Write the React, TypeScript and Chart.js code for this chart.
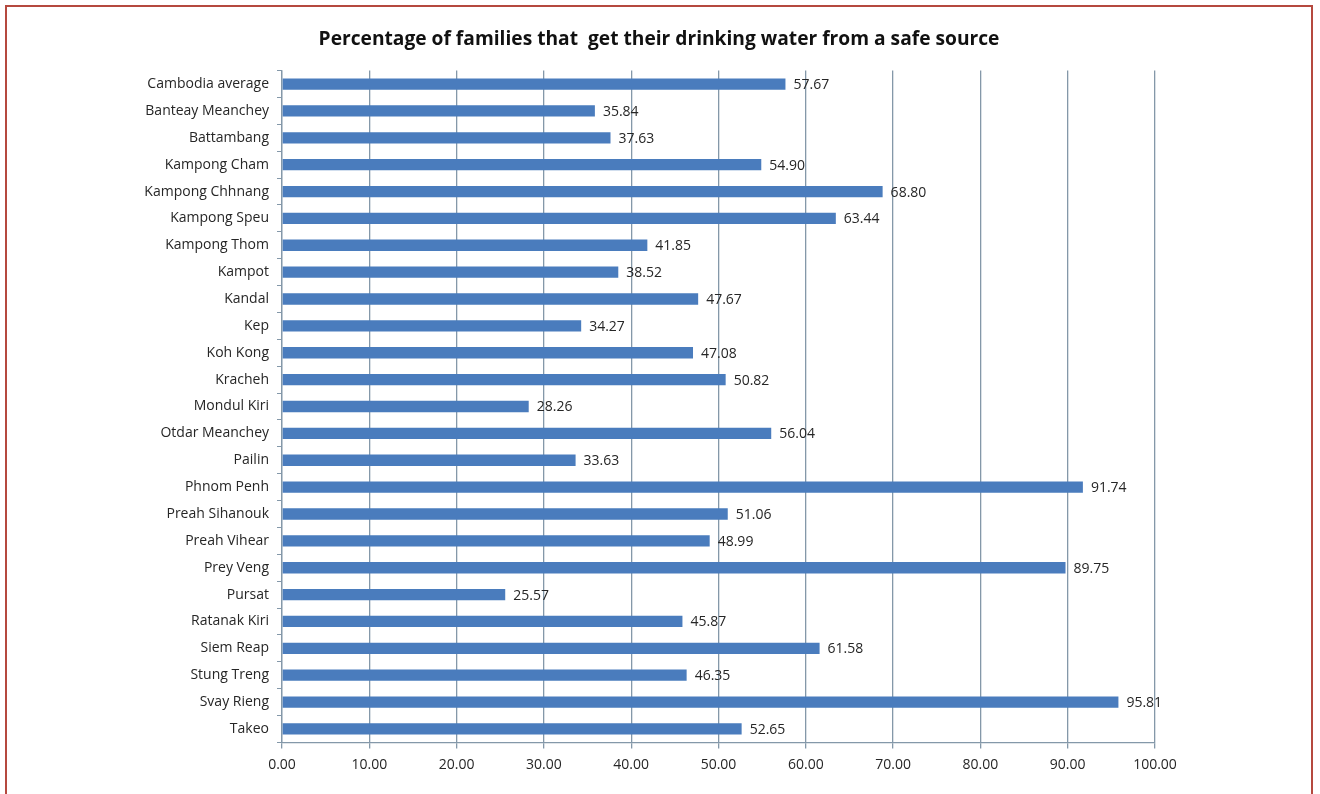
import React, { useEffect, useRef } from "react";
import { Chart, registerables } from "chart.js";

Chart.register(...registerables);

const TITLE = "Percentage of families that  get their drinking water from a safe source";

const provinces = [
  "Cambodia average",
  "Banteay Meanchey",
  "Battambang",
  "Kampong Cham",
  "Kampong Chhnang",
  "Kampong Speu",
  "Kampong Thom",
  "Kampot",
  "Kandal",
  "Kep",
  "Koh Kong",
  "Kracheh",
  "Mondul Kiri",
  "Otdar Meanchey",
  "Pailin",
  "Phnom Penh",
  "Preah Sihanouk",
  "Preah Vihear",
  "Prey Veng",
  "Pursat",
  "Ratanak Kiri",
  "Siem Reap",
  "Stung Treng",
  "Svay Rieng",
  "Takeo",
];

const safeWaterPct = [
  57.67, 35.84, 37.63, 54.9, 68.8, 63.44, 41.85, 38.52, 47.67, 34.27, 47.08,
  50.82, 28.26, 56.04, 33.63, 91.74, 51.06, 48.99, 89.75, 25.57, 45.87, 61.58,
  46.35, 95.81, 52.65,
];

const xTicks = [0, 10, 20, 30, 40, 50, 60, 70, 80, 90, 100];

const FONT = "'Open Sans', 'Noto Sans', sans-serif";
const GRID = "#8498a9";
const TEXT = "#262626";

const valueLabels = {
  id: "valueLabels",
  afterDatasetsDraw(chart: any) {
    const ctx = chart.ctx;
    const meta = chart.getDatasetMeta(0);
    ctx.save();
    ctx.font = `14px ${FONT}`;
    ctx.fillStyle = TEXT;
    ctx.textAlign = "left";
    ctx.textBaseline = "middle";
    meta.data.forEach((bar: any, i: number) => {
      ctx.fillText(safeWaterPct[i].toFixed(2), bar.x + 8, bar.y + 1);
    });
    ctx.restore();
  },
};

const titlePlugin = {
  id: "titleDraw",
  afterDraw(chart: any) {
    const ctx = chart.ctx;
    ctx.save();
    ctx.font = `bold 19.2px ${FONT}`;
    ctx.fillStyle = "#111";
    ctx.textAlign = "center";
    ctx.textBaseline = "middle";
    ctx.fillText(TITLE, 659, 40);
    ctx.restore();
  },
};

export default function App() {
  const ref = useRef<HTMLCanvasElement>(null);

  useEffect(() => {
    document.body.style.margin = "0";
    const chart = new Chart(ref.current as HTMLCanvasElement, {
      type: "bar",
      data: {
        labels: provinces,
        datasets: [
          {
            data: safeWaterPct,
            backgroundColor: "#4a7cbd",
            borderWidth: 0,
            barPercentage: 0.42,
            categoryPercentage: 1,
          },
        ],
      },
      options: {
        indexAxis: "y",
        animation: false,
        responsive: false,
        layout: { padding: { left: 0, right: 165, top: 70.6, bottom: 11.6 } },
        plugins: {
          legend: { display: false },
          title: { display: false },
          tooltip: { enabled: false },
        },
        scales: {
          x: {
            min: 0,
            max: 100,
            afterBuildTicks(scale: any) {
              scale.ticks = xTicks.map((v) => ({ value: v }));
            },
            afterFit(scale: any) {
              scale.height = 40;
            },
            grid: {
              color: GRID,
              lineWidth: 1.3,
              tickLength: 6,
              drawTicks: true,
            },
            border: { color: GRID, width: 1.3 },
            ticks: {
              color: TEXT,
              font: { family: FONT, size: 14 },
              padding: 8,
              maxRotation: 0,
              callback: (v: any) => Number(v).toFixed(2),
            },
          },
          y: {
            afterFit(scale: any) {
              scale.width = 282;
            },
            grid: {
              drawOnChartArea: false,
              color: GRID,
              tickLength: 5,
              offset: true,
            },
            border: { color: GRID, width: 1.3 },
            ticks: {
              color: TEXT,
              font: { family: FONT, size: 14 },
              padding: 8,
              autoSkip: false,
            },
          },
        },
      },
      plugins: [valueLabels, titlePlugin],
    });
    return () => chart.destroy();
  }, []);

  return (
    <div style={{ position: "relative", width: 1320, height: 794, overflow: "hidden", background: "#fff" }}>
      <div
        style={{
          position: "absolute",
          left: 5,
          top: 5,
          width: 1308,
          height: 820,
          border: "2px solid #b5493f",
          boxSizing: "border-box",
        }}
      />
      <canvas ref={ref} width={1320} height={794} style={{ position: "absolute", left: 0, top: 0 }} />
    </div>
  );
}
